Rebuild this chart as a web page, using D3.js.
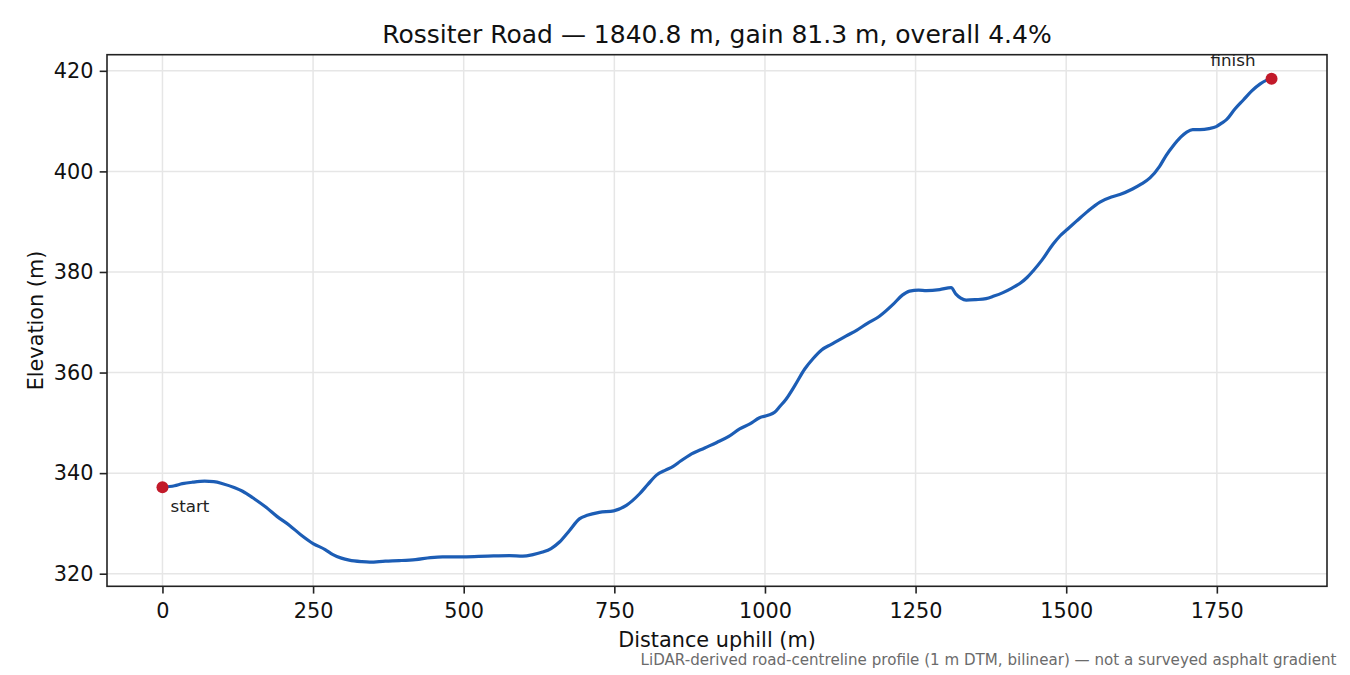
<!DOCTYPE html>
<html>
<head>
<meta charset="utf-8">
<script src="https://cdn.jsdelivr.net/npm/d3@7/dist/d3.min.js"></script>
<style>
  html, body { margin: 0; padding: 0; background: #fff; }
  svg { display: block; font-family: "DejaVu Sans", sans-serif; }
</style>
</head>
<body>
<svg id="chart" width="1350" height="675"></svg>
<script>
// Profile
// -----------------

var distance = [
  0, 20, 33, 50, 70, 85, 100, 120, 133, 150, 172, 190, 211, 230, 250, 270, 283, 297,
  310, 330, 344, 370, 393, 420, 445, 465, 500, 540, 576, 598, 615, 631, 645, 659,
  675, 692, 705, 725, 749, 770, 792, 806, 820, 835, 847, 860, 875, 900, 920, 940,
  958, 975, 991, 1005, 1016, 1025, 1035, 1050, 1066, 1080, 1094, 1110, 1135, 1152,
  1170, 1190, 1213, 1228, 1240, 1255, 1268, 1290, 1309, 1317, 1325, 1334, 1350,
  1367, 1380, 1395, 1410, 1423, 1435, 1445, 1460, 1478, 1490, 1502, 1517, 1535,
  1556, 1575, 1589, 1610, 1625, 1639, 1655, 1666, 1677, 1690, 1700, 1710, 1722,
  1737, 1749, 1758, 1766, 1780, 1794, 1808, 1822, 1832, 1840.8
];
var elevation = [
  337.2, 337.5, 337.9, 338.2, 338.4, 338.3, 337.9, 337.1, 336.4, 335.1, 333.2, 331.4,
  329.6, 327.7, 326.0, 324.8, 323.8, 323.1, 322.7, 322.4, 322.3, 322.5, 322.6, 322.8,
  323.2, 323.35, 323.35, 323.5, 323.6, 323.5, 323.8, 324.3, 325.0, 326.3, 328.5, 330.9,
  331.6, 332.2, 332.5, 333.6, 335.9, 337.8, 339.6, 340.6, 341.3, 342.4, 343.6, 345.0,
  346.1, 347.3, 348.8, 349.8, 351.0, 351.5, 352.1, 353.3, 354.7, 357.5, 360.7, 362.8,
  364.5, 365.6, 367.3, 368.4, 369.8, 371.2, 373.6, 375.4, 376.2, 376.4, 376.3, 376.5,
  376.9, 375.6, 374.8, 374.4, 374.5, 374.7, 375.2, 375.9, 376.8, 377.7, 378.9, 380.2,
  382.4, 385.5, 387.2, 388.5, 390.1, 392.0, 393.9, 394.9, 395.4, 396.5, 397.5, 398.7,
  401.0, 403.2, 405.0, 406.8, 407.8, 408.3, 408.3, 408.5, 408.9, 409.6, 410.3, 412.4,
  414.2, 416.0, 417.4, 418.1, 418.4
];

var xTicks = [0, 250, 500, 750, 1000, 1250, 1500, 1750];
var yTicks = [320, 340, 360, 380, 400, 420];

var endLabels = ["start", "finish"];

var titleText = "Rossiter Road \u2014 1840.8 m, gain 81.3 m, overall 4.4%";
var xLabel = "Distance uphill (m)";
var yLabel = "Elevation (m)";
var footnote = "LiDAR-derived road-centreline profile (1 m DTM, bilinear) \u2014 not a surveyed asphalt gradient";

var box = { left: 107, right: 1327, top: 54.7, bottom: 586.3 };

var svg = d3.select("#chart");

// 5% padding on each side, like the usual autoscale
var xExt = d3.extent(distance), yExt = d3.extent(elevation);
var xPad = (xExt[1] - xExt[0]) * 0.05, yPad = (yExt[1] - yExt[0]) * 0.05;

var x = d3.scaleLinear()
  .domain([xExt[0] - xPad, xExt[1] + xPad])
  .range([box.left, box.right]);
var y = d3.scaleLinear()
  .domain([yExt[0] - yPad, yExt[1] + yPad])
  .range([box.bottom, box.top]);

var points = distance.map(function(d, i) { return { d: d, e: elevation[i] }; });

// grid
var grid = svg.append("g").attr("class", "grid");
grid.selectAll("line.gx").data(xTicks).enter().append("line")
  .attr("x1", function(d) { return x(d); }).attr("x2", function(d) { return x(d); })
  .attr("y1", box.top).attr("y2", box.bottom);
grid.selectAll("line.gy").data(yTicks).enter().append("line")
  .attr("y1", function(d) { return y(d); }).attr("y2", function(d) { return y(d); })
  .attr("x1", box.left).attr("x2", box.right);
grid.selectAll("line")
  .attr("stroke", "#e6e6e6")
  .attr("stroke-width", 1.5);

// profile line
var line = d3.line()
  .x(function(p) { return x(p.d); })
  .y(function(p) { return y(p.e); })
  .curve(d3.curveMonotoneX);

svg.append("path")
  .datum(points)
  .attr("fill", "none")
  .attr("stroke", "#1c5db5")
  .attr("stroke-width", 3.2)
  .attr("stroke-linejoin", "round")
  .attr("stroke-linecap", "round")
  .attr("d", line);

// start / finish markers
var ends = [points[0], points[points.length - 1]];

svg.selectAll("circle.end").data(ends).enter().append("circle")
  .attr("class", "end")
  .attr("cx", function(p) { return x(p.d); })
  .attr("cy", function(p) { return y(p.e); })
  .attr("r", 6)
  .attr("fill", "#c21a2a");

svg.selectAll("text.end").data(ends).enter().append("text")
  .attr("class", "end")
  .attr("x", function(p, i) { return i === 0 ? x(p.d) + 8 : x(p.d) - 16; })
  .attr("y", function(p, i) { return i === 0 ? y(p.e) + 25 : y(p.e) - 12.5; })
  .attr("text-anchor", function(p, i) { return i === 0 ? "start" : "end"; })
  .attr("font-size", 16.7)
  .attr("fill", "#222")
  .text(function(p, i) { return endLabels[i]; });

// axes
var xAxis = svg.append("g")
  .attr("transform", "translate(0," + box.bottom + ")")
  .call(d3.axisBottom(x).tickValues(xTicks).tickSize(7.3).tickPadding(9.3).tickFormat(d3.format("d")));
var yAxis = svg.append("g")
  .attr("transform", "translate(" + box.left + ",0)")
  .call(d3.axisLeft(y).tickValues(yTicks).tickSize(7.3).tickPadding(6.2).tickFormat(d3.format("d")));

[xAxis, yAxis].forEach(function(g) {
  g.select(".domain").remove();
  g.selectAll(".tick line").attr("stroke", "#222").attr("stroke-width", 1.6);
  g.selectAll(".tick text")
    .attr("fill", "#111")
    .attr("font-size", 20.8)
    .attr("font-family", "DejaVu Sans, sans-serif");
});

// frame
svg.append("rect")
  .attr("x", box.left).attr("y", box.top)
  .attr("width", box.right - box.left).attr("height", box.bottom - box.top)
  .attr("fill", "none")
  .attr("stroke", "#222")
  .attr("stroke-width", 1.6);

// labels
svg.append("text")
  .attr("x", (box.left + box.right) / 2).attr("y", 43)
  .attr("text-anchor", "middle")
  .attr("font-size", 25)
  .attr("fill", "#111")
  .text(titleText);

svg.append("text")
  .attr("x", (box.left + box.right) / 2).attr("y", 647)
  .attr("text-anchor", "middle")
  .attr("font-size", 20.8)
  .attr("fill", "#111")
  .text(xLabel);

svg.append("text")
  .attr("transform", "translate(43," + (box.top + box.bottom) / 2 + ") rotate(-90)")
  .attr("text-anchor", "middle")
  .attr("font-size", 20.8)
  .attr("fill", "#111")
  .text(yLabel);

svg.append("text")
  .attr("x", 1336.5).attr("y", 665)
  .attr("text-anchor", "end")
  .attr("font-size", 15.1)
  .attr("fill", "#6b6b6b")
  .text(footnote);
</script>
</body>
</html>
